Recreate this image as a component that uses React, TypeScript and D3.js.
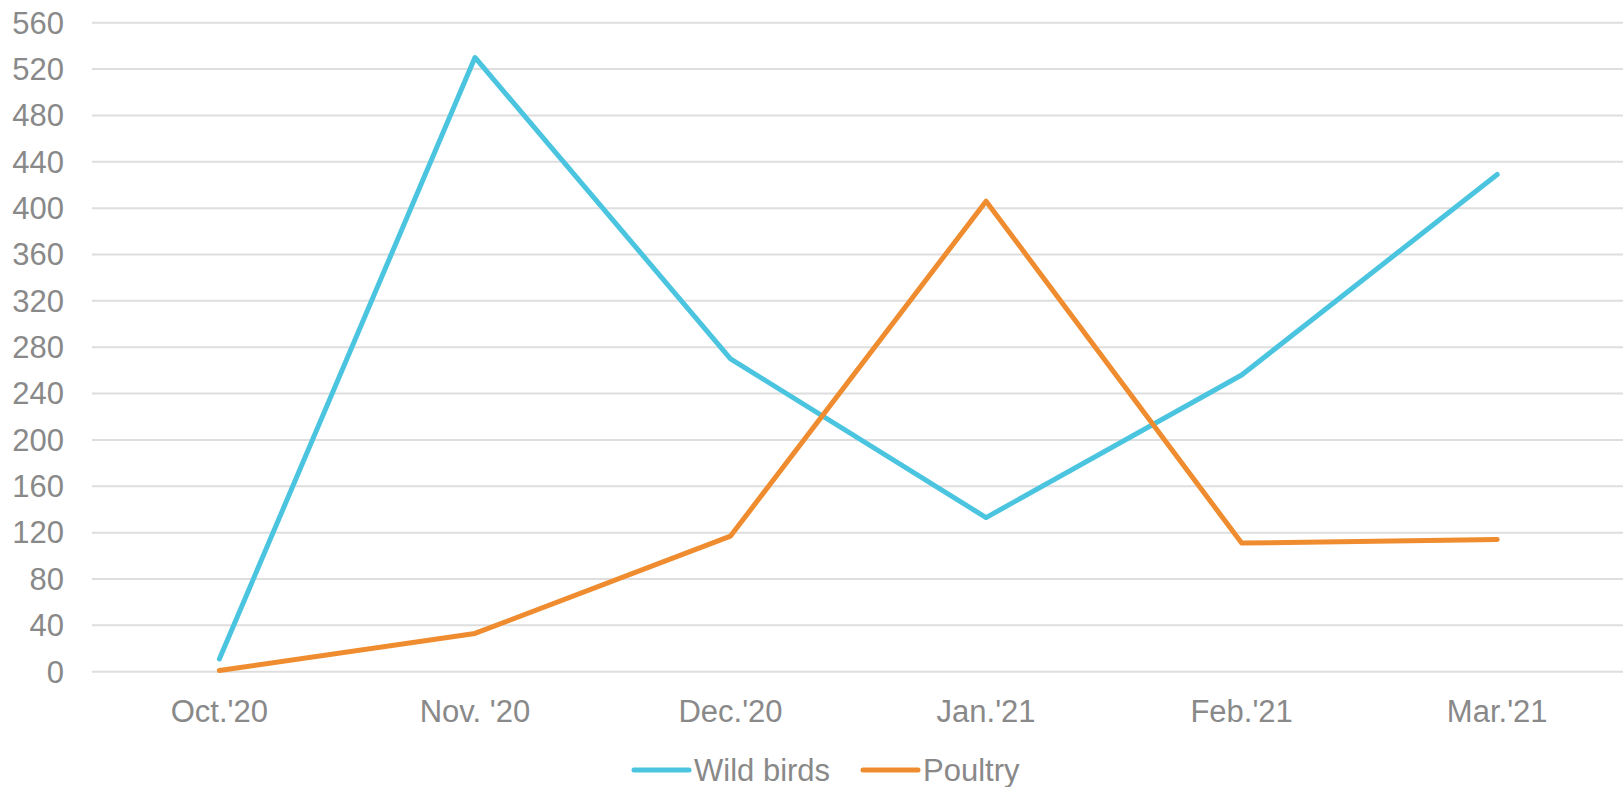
import React, { useEffect, useRef } from 'react';
import * as d3 from 'd3';

const months = ["Oct.'20", "Nov. '20", "Dec.'20", "Jan.'21", "Feb.'21", "Mar.'21"];
const wildBirds = [11, 530, 270, 133, 256, 429];
const poultry = [1, 33, 117, 406, 111, 114];
const yTicks = [0, 40, 80, 120, 160, 200, 240, 280, 320, 360, 400, 440, 480, 520, 560];

const series = [
  { name: 'Wild birds', values: wildBirds, color: '#4BC5DF' },
  { name: 'Poultry', values: poultry, color: '#EF8C2F' },
];

const W = 1623;
const H = 787;

const App: React.FC = () => {
  const svgRef = useRef<SVGSVGElement | null>(null);

  useEffect(() => {
    const svg = d3.select(svgRef.current);
    svg.selectAll('*').remove();

    const x = d3.scaleBand<string>().domain(months).range([91.6, 1625]).padding(0);
    const y = d3.scaleLinear().domain([0, 560]).range([671.7, 22.7]);

    const font = 'Liberation Sans, Arial, sans-serif';
    const gray = '#898989';
    const fs = 31;

    // gridlines
    svg.append('g')
      .selectAll('line')
      .data(yTicks)
      .enter()
      .append('line')
      .attr('x1', 92)
      .attr('x2', W)
      .attr('y1', (d) => y(d))
      .attr('y2', (d) => y(d))
      .attr('stroke', '#DEDEDE')
      .attr('stroke-width', 2);

    // y labels
    svg.append('g')
      .selectAll('text')
      .data(yTicks)
      .enter()
      .append('text')
      .attr('x', 64)
      .attr('y', (d) => y(d))
      .attr('dy', '0.35em')
      .attr('text-anchor', 'end')
      .attr('font-family', font)
      .attr('font-size', fs)
      .attr('fill', gray)
      .text((d) => d);

    // x labels
    svg.append('g')
      .selectAll('text')
      .data(months)
      .enter()
      .append('text')
      .attr('x', (d) => (x(d) as number) + x.bandwidth() / 2)
      .attr('y', 711)
      .attr('dy', '0.35em')
      .attr('text-anchor', 'middle')
      .attr('font-family', font)
      .attr('font-size', fs)
      .attr('fill', gray)
      .text((d) => d);

    const line = d3.line<number>()
      .x((_, i) => (x(months[i]) as number) + x.bandwidth() / 2)
      .y((d) => y(d));

    series.forEach((s) => {
      svg.append('path')
        .datum(s.values)
        .attr('d', line)
        .attr('fill', 'none')
        .attr('stroke', s.color)
        .attr('stroke-width', 5)
        .attr('stroke-linejoin', 'round')
        .attr('stroke-linecap', 'round');
    });

    // legend
    const legendPos = [634, 863];
    const legend = svg.selectAll('.legend')
      .data(series)
      .enter()
      .append('g')
      .attr('class', 'legend')
      .attr('transform', (_, i) => `translate(${legendPos[i]}, 770)`);

    legend.append('line')
      .attr('x1', 0)
      .attr('x2', 55)
      .attr('y1', 0)
      .attr('y2', 0)
      .attr('stroke', (d) => d.color)
      .attr('stroke-width', 5)
      .attr('stroke-linecap', 'round');

    legend.append('text')
      .attr('x', 60)
      .attr('y', 0)
      .attr('dy', '0.35em')
      .attr('font-family', font)
      .attr('font-size', fs)
      .attr('fill', gray)
      .text((d) => d.name);
  }, []);

  return (
    <svg
      ref={svgRef}
      width={W}
      height={H}
      style={{ position: 'absolute', left: 0, top: 0, background: '#fff' }}
    />
  );
};

export default App;
